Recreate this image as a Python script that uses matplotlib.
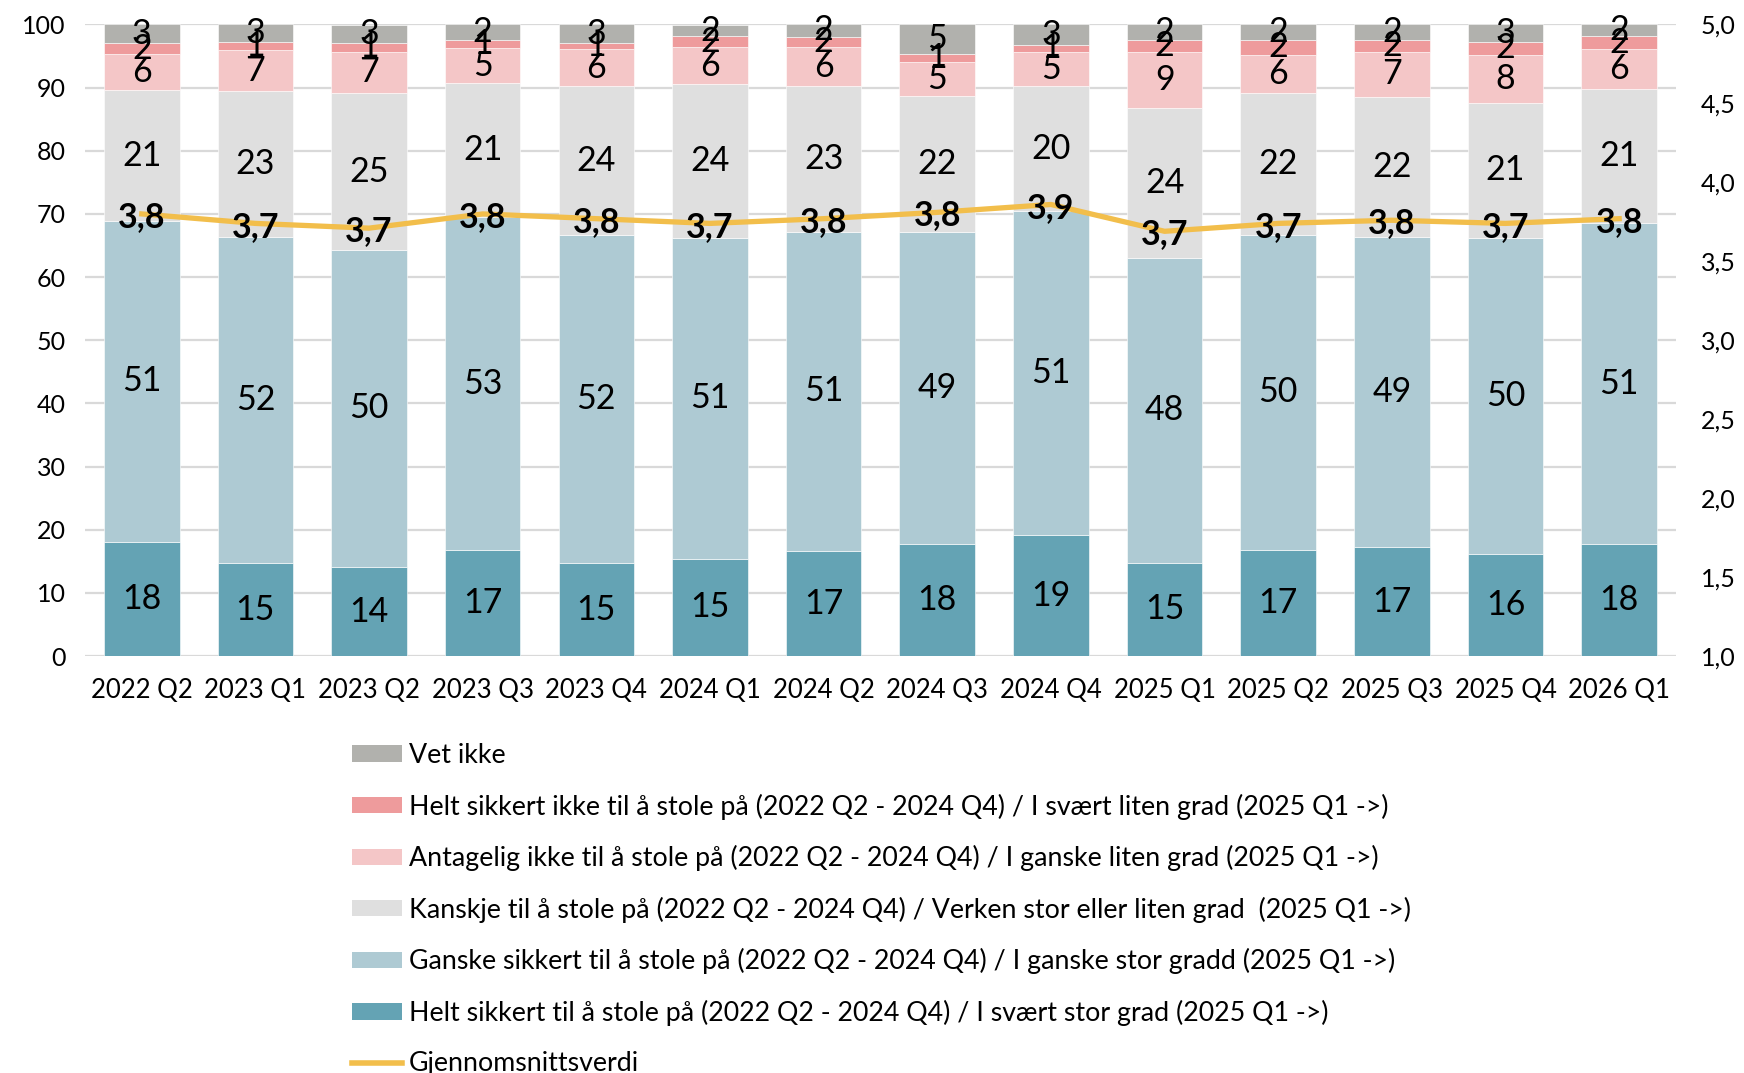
import numpy as np
import matplotlib
matplotlib.use("Agg")
import matplotlib.pyplot as plt
from matplotlib.patches import Patch
from matplotlib.lines import Line2D

plt.rcParams["font.family"] = ["Lato", "DejaVu Sans"]

quarters = ["2022 Q2", "2023 Q1", "2023 Q2", "2023 Q3", "2023 Q4", "2024 Q1", "2024 Q2",
            "2024 Q3", "2024 Q4", "2025 Q1", "2025 Q2", "2025 Q3", "2025 Q4", "2026 Q1"]

helt_sikkert = [18.1, 14.7, 14.1, 16.8, 14.7, 15.4, 16.6, 17.7, 19.1, 14.8, 16.8, 17.2, 16.1, 17.7]
ganske_sikkert = [50.8, 51.6, 50.2, 52.7, 51.9, 50.8, 50.6, 49.4, 51.3, 48.3, 49.9, 49.2, 50.1, 50.8]
kanskje = [20.7, 23.1, 24.8, 21.3, 23.6, 24.4, 23.0, 21.6, 19.9, 23.7, 22.4, 22.1, 21.4, 21.3]
antagelig_ikke = [5.7, 6.6, 6.6, 5.4, 5.85, 5.8, 6.2, 5.4, 5.4, 8.9, 6.1, 7.2, 7.6, 6.25]
helt_sikkert_ikke = [1.7, 1.3, 1.4, 1.4, 0.95, 1.7, 1.6, 1.3, 1.0, 1.9, 2.4, 1.9, 2.0, 2.15]
vet_ikke = [3.0, 2.8, 2.8, 2.4, 3.0, 1.8, 2.1, 4.7, 3.3, 2.4, 2.4, 2.4, 2.8, 1.8]

snitt = [3.80, 3.74, 3.71, 3.80, 3.77, 3.74, 3.77, 3.81, 3.86, 3.69, 3.74, 3.76, 3.74, 3.77]

series = [
    (helt_sikkert, "#64A3B4",
     "Helt sikkert til å stole på (2022 Q2 - 2024 Q4) / I svært stor grad (2025 Q1 ->)"),
    (ganske_sikkert, "#AECAD3",
     "Ganske sikkert til å stole på (2022 Q2 - 2024 Q4) / I ganske stor gradd (2025 Q1 ->)"),
    (kanskje, "#DFDFDF",
     "Kanskje til å stole på (2022 Q2 - 2024 Q4) / Verken stor eller liten grad  (2025 Q1 ->)"),
    (antagelig_ikke, "#F4C6C7",
     "Antagelig ikke til å stole på (2022 Q2 - 2024 Q4) / I ganske liten grad (2025 Q1 ->)"),
    (helt_sikkert_ikke, "#EE9B9C",
     "Helt sikkert ikke til å stole på (2022 Q2 - 2024 Q4) / I svært liten grad (2025 Q1 ->)"),
    (vet_ikke, "#B1B1AD", "Vet ikke"),
]
line_color = "#F2BE4B"
line_label = "Gjennomsnittsverdi"

fig = plt.figure(figsize=(17.44, 10.73), dpi=100)
ax = fig.add_axes([0.0487, 0.3886, 0.9123, 0.5886])

x = np.arange(len(quarters))
bottom = np.zeros(len(quarters))
for values, color, label in series:
    vals = np.array(values)
    ax.bar(x, vals, bottom=bottom, width=0.665, color=color,
           edgecolor="white", linewidth=0.4, zorder=2)
    for xi, b, v in zip(x, bottom, vals):
        ax.text(xi, b + v / 2, f"{round(v)}", ha="center", va="center",
                fontsize=24.5, color="black", zorder=3)
    bottom += vals

ax.set_xlim(-0.5, len(quarters) - 0.5)
ax.set_ylim(0, 100)
ax.set_yticks(np.arange(0, 101, 10))
ax.yaxis.grid(True, color="#D9D9D9", linewidth=1.6)
ax.set_axisbelow(True)
ax.set_xticks(x)
ax.set_xticklabels(quarters)
ax.tick_params(axis="x", length=0, pad=16, labelsize=18.5)
ax.tick_params(axis="y", length=0, pad=14, labelsize=18)
for spine in ax.spines.values():
    spine.set_visible(False)

ax2 = ax.twinx()
ax2.plot(x, snitt, color=line_color, linewidth=3.8, zorder=4)
for xi, v in zip(x, snitt):
    ax2.text(xi, v - 0.02, f"{v:.1f}".replace(".", ","), ha="center", va="center",
             fontsize=24.5, fontweight="bold", color="black", zorder=5)
ax2.set_ylim(1.0, 5.0)
ax2.set_yticks(np.arange(1.0, 5.01, 0.5))
ax2.set_yticklabels([f"{t:.1f}".replace(".", ",") for t in np.arange(1.0, 5.01, 0.5)])
ax2.tick_params(axis="y", length=0, pad=18, labelsize=18)
for spine in ax2.spines.values():
    spine.set_visible(False)

handles = [Patch(facecolor=c, edgecolor="none", label=l) for _, c, l in reversed(series)]
handles.append(Line2D([0], [0], color=line_color, linewidth=4, label=line_label))
fig.legend(handles=handles, loc="upper left", bbox_to_anchor=(0.202, 0.3075),
           frameon=False, fontsize=19.3, handlelength=1.85, handleheight=0.55,
           handletextpad=0.25, labelspacing=0.95, borderaxespad=0, borderpad=0)

fig.savefig("out.png", dpi=100)
